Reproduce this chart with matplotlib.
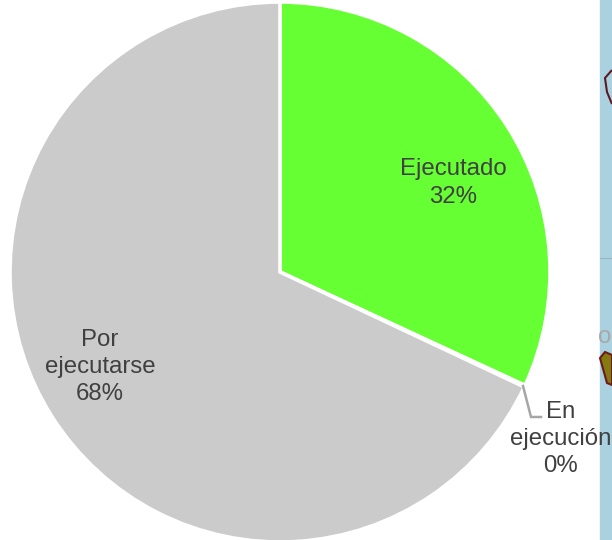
import matplotlib
matplotlib.use("Agg")
import matplotlib.pyplot as plt
from matplotlib.patches import Rectangle, Polygon

# --- data ---
categories = ["Ejecutado", "En\nejecución", "Por\nejecutarse"]
values = [31.9, 0.1, 68.0]
percent_labels = ["32%", "0%", "68%"]
colors = ["#66FF33", "#FFFF99", "#CBCBCB"]

# --- style / layout (pixel coordinates, y measured from the top) ---
W, H = 612, 540
CX, CY, R = 280, 272, 270
TEXT_COLOR = "#404040"
LABEL_POS = [(453, 183), (561, 439), (100, 367)]
LEADER_X = [523, 531, 541]
LEADER_Y = [386, 417, 417]
STRIP_X = 600
FONT_PT = 17.3

plt.rcParams["font.family"] = ["Liberation Sans", "DejaVu Sans"]

fig = plt.figure(figsize=(W / 100, H / 100), dpi=100)
ax = fig.add_axes([0, 0, 1, 1])

# map fragment visible behind the chart on the right edge
ax.add_patch(Rectangle((STRIP_X, 0), W - STRIP_X, H, color="#A9D1E0", zorder=0))
ax.plot([STRIP_X, W], [H - 258, H - 258], color="#9DB4C0", lw=0.8, zorder=1)
ax.add_patch(Polygon([(612, H - 70), (605, H - 78), (607, H - 92), (612, H - 104)],
                     closed=False, fill=False, edgecolor="#5E1A22", lw=1.5, zorder=1))
ax.add_patch(Polygon([(600, H - 358), (605, H - 352), (612, H - 355), (612, H - 385),
                      (607, H - 383)],
                     facecolor="#857A10", edgecolor="#6E1A1A", lw=1.5, zorder=1))
ax.text(598, H - 337, "o", fontsize=FONT_PT, color="#A8A8A8", ha="left", va="center",
        zorder=1)

wedges, _ = ax.pie(values, colors=colors, startangle=90, counterclock=False,
                   center=(CX, H - CY), radius=R,
                   wedgeprops={"edgecolor": "white", "linewidth": 2.6}, frame=True)
for w in wedges:
    w.set_zorder(2)

ax.plot(LEADER_X, [H - y for y in LEADER_Y], color="#A6A6A6", lw=1.8, zorder=3,
        solid_joinstyle="miter")

for name, pct, (x, y) in zip(categories, percent_labels, LABEL_POS):
    ax.text(x, H - y, f"{name}\n{pct}", ha="center", va="center", fontsize=FONT_PT,
            color=TEXT_COLOR, linespacing=1.32, zorder=4)

ax.set_xlim(0, W)
ax.set_ylim(0, H)
ax.set_aspect("equal")
ax.axis("off")

fig.savefig("out.png", dpi=100, facecolor="white")
